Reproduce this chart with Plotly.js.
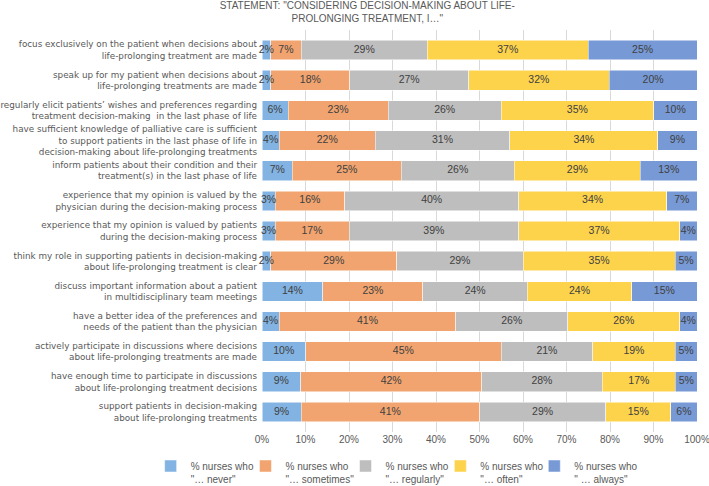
<!DOCTYPE html>
<html>
<head>
<meta charset="utf-8">
<script src="https://cdn.plot.ly/plotly-3.0.1.min.js"></script>
<style>html,body{margin:0;padding:0;background:#fff}#chart{width:709px;height:486px}</style>
</head>
<body>
<div id="chart"></div>
<script>
const statements = [
  "focus exclusively on the patient when decisions about<br>life-prolonging treatment are made",
  "speak up for my patient when decisions about<br>life-prolonging treatments are made",
  "regularly elicit patients’ wishes and preferences regarding<br>treatment decision-making  in the last phase of life",
  "have sufficient knowledge of palliative care is sufficient<br>to support patients in the last phase of life in<br>decision-making about life-prolonging treatments",
  "inform patients about their condition and their<br>treatment(s) in the last phase of life",
  "experience that my opinion is valued by the<br>physician during the decision-making process",
  "experience that my opinion is valued by patients<br>during the decision-making process",
  "think my role in supporting patients in decision-making<br>about life-prolonging treatment is clear",
  "discuss important information about a patient<br>in multidisciplinary team meetings",
  "have a better idea of the preferences and<br>needs of the patient than the physician",
  "actively participate in discussions where decisions<br>about life-prolonging treatments are made",
  "have enough time to participate in discussions<br>about life-prolonging treatment decisions",
  "support patients in decision-making<br>about life-prolonging treatments"
];
const never     = [2, 2, 6, 4, 7, 3, 3, 2, 14, 4, 10, 9, 9];
const sometimes = [7, 18, 23, 22, 25, 16, 17, 29, 23, 41, 45, 42, 41];
const regularly = [29, 27, 26, 31, 26, 40, 39, 29, 24, 26, 21, 28, 29];
const often     = [37, 32, 35, 34, 29, 34, 37, 35, 24, 26, 19, 17, 15];
const always    = [25, 20, 10, 9, 13, 7, 4, 5, 15, 4, 5, 5, 6];
const seriesNames = [
  "% nurses who<br>\"… never\"",
  "% nurses who<br>\"… sometimes\"",
  "% nurses who<br>\"… regularly\"",
  "% nurses who<br>\"… often\"",
  "% nurses who<br>\" … always\""
];
const xTicks = [0,10,20,30,40,50,60,70,80,90,100];
const titleText = "STATEMENT: \"CONSIDERING DECISION-MAKING ABOUT LIFE-<br>PROLONGING TREATMENT, I…\"";

const series = [never, sometimes, regularly, often, always];
const colors = ["#82b3e2", "#f1a46f", "#bebebe", "#fed34c", "#7799d5"];
const legendIds = ['legend', 'legend2', 'legend3', 'legend4', 'legend5'];
const legendX = [-0.256, -0.038, 0.192, 0.410, 0.626];

const totals = statements.map((_, i) => series.reduce((s, arr) => s + arr[i], 0));
const norm = series.map(arr => arr.map((v, i) => v * 100 / totals[i]));

const traces = [];
series.forEach((arr, k) => {
  traces.push({
    type: 'bar', orientation: 'h',
    y: statements, x: norm[k],
    name: seriesNames[k],
    legend: legendIds[k],
    marker: {color: colors[k], line: {color: '#ffffff', width: 0.5}},
    hoverinfo: 'skip'
  });
});
series.forEach((arr, k) => {
  const mids = statements.map((_, i) => {
    let start = 0;
    for (let j = 0; j < k; j++) start += norm[j][i];
    return start + norm[k][i] / 2;
  });
  traces.push({
    type: 'scatter', mode: 'text',
    y: statements, x: mids,
    text: arr.map(v => v + '%'),
    textposition: 'middle center',
    textfont: {family: 'Liberation Sans, Arial, sans-serif', size: 10.5, color: '#404040'},
    showlegend: false, hoverinfo: 'skip', cliponaxis: false
  });
});

const layout = {
  width: 709, height: 486,
  margin: {l: 262, r: 12, t: 30, b: 54, autoexpand: false},
  paper_bgcolor: '#ffffff', plot_bgcolor: '#ffffff',
  barmode: 'stack', bargap: 0.35,
  font: {family: 'Liberation Sans, Arial, sans-serif', color: '#595959', size: 10},
  title: {
    text: titleText,
    font: {family: 'Liberation Sans, Arial, sans-serif', size: 10, color: '#595959'},
    x: 0.518, xanchor: 'center', xref: 'container',
    y: 0.981, yanchor: 'top', yref: 'container'
  },
  xaxis: {
    range: [0, 100.0001], tickvals: xTicks, ticktext: xTicks.map(v => v + '%'),
    showgrid: true, gridcolor: '#d9d9d9', gridwidth: 1, zeroline: false,
    showline: false, ticks: '', tickfont: {size: 10, color: '#595959'},
    ticklabeloverflow: 'allow', fixedrange: true
  },
  yaxis: {
    type: 'category', autorange: 'reversed', showgrid: false, zeroline: false,
    ticks: '', ticklabelstandoff: 4,
    tickfont: {family: 'DejaVu Sans, sans-serif', size: 8.8, color: '#595959'},
    fixedrange: true
  },
  showlegend: true
};
legendIds.forEach((id, k) => {
  layout[id] = {
    orientation: 'h', xref: 'paper', yref: 'paper',
    x: legendX[k], xanchor: 'left', y: -0.0522, yanchor: 'top',
    itemwidth: 30, valign: 'top',
    font: {size: 10, color: '#595959'},
    bgcolor: 'rgba(0,0,0,0)'
  };
});

Plotly.newPlot('chart', traces, layout, {displayModeBar: false, staticPlot: true});
</script>
</body>
</html>
